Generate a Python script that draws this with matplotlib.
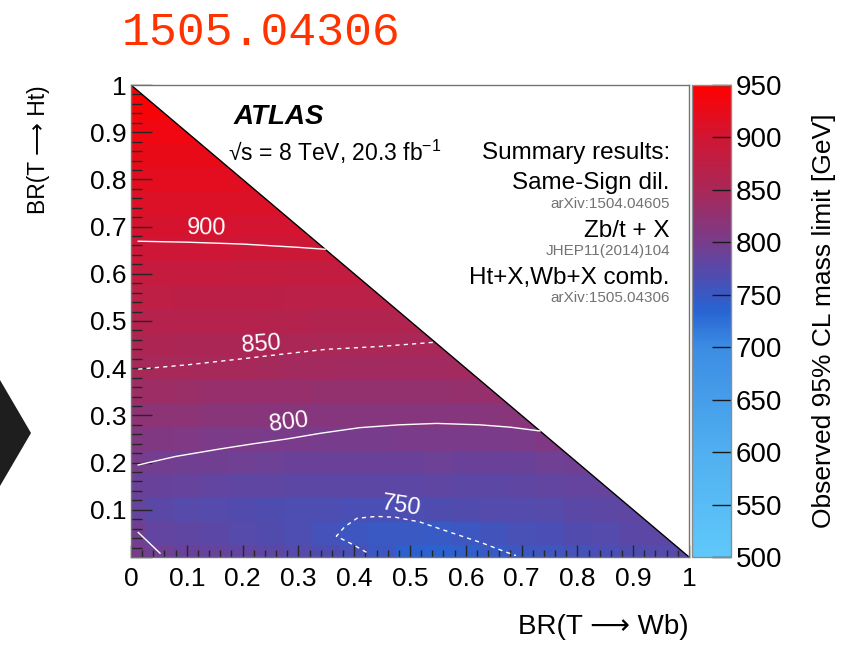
import numpy as np
import matplotlib
matplotlib.use("Agg")
import matplotlib.pyplot as plt
from matplotlib.colors import LinearSegmentedColormap
from matplotlib.patches import Polygon

plt.rcParams['font.family'] = ['Liberation Sans', 'DejaVu Sans']
plt.rcParams['mathtext.fontset'] = 'custom'
plt.rcParams['mathtext.rm'] = 'Liberation Sans'
plt.rcParams['mathtext.it'] = 'Liberation Sans:italic'

# observed mass limit [GeV], one row per BR(T->Ht) bin (0, 0.05, ... 1),
# each row runs over BR(T->Wb) = 0, 0.05, ... up to 1 - BR(T->Ht)
mass_limit = [
    [800, 792, 788, 785, 782, 778, 774, 768, 762, 752, 740, 738, 742, 748, 752, 756, 760, 764, 768, 772, 776],
    [795, 782, 780, 777, 774, 770, 766, 760, 754, 750, 750, 748, 752, 758, 762, 765, 770, 772, 776, 778],
    [786, 776, 774, 772, 770, 768, 767, 766, 765, 765, 766, 768, 770, 771, 772, 774, 776, 778, 780],
    [790, 787, 785, 782, 781, 780, 779, 778, 778, 778, 779, 780, 779, 779, 780, 782, 784, 786],
    [800, 797, 795, 794, 792, 791, 790, 790, 789, 789, 790, 791, 790, 790, 790, 792, 795],
    [810, 809, 807, 804, 803, 802, 802, 800, 800, 800, 801, 802, 802, 802, 803, 808],
    [822, 821, 820, 818, 817, 816, 815, 814, 814, 813, 813, 813, 814, 815, 817],
    [836, 836, 835, 832, 832, 832, 831, 828, 828, 828, 828, 828, 829, 830],
    [849, 848, 848, 847, 847, 846, 843, 843, 842, 842, 842, 842, 843],
    [856, 856, 855, 855, 855, 854, 853, 853, 852, 852, 851, 851],
    [865, 865, 864, 864, 864, 863, 863, 862, 862, 862, 862],
    [875, 875, 874, 874, 873, 873, 872, 872, 871, 871],
    [886, 886, 885, 885, 884, 884, 883, 883, 882],
    [897, 897, 896, 896, 895, 895, 894, 894],
    [906, 906, 905, 905, 904, 904, 904],
    [913, 913, 912, 912, 911, 911],
    [920, 920, 919, 919, 918],
    [927, 927, 926, 926],
    [934, 934, 933],
    [941, 940],
    [948],
]

# contour lines (BR(T->Wb), BR(T->Ht))
c900_x = [0.013, 0.10, 0.20, 0.30, 0.348]
c900_y = [0.669, 0.667, 0.663, 0.656, 0.652]
c850_x = [0.013, 0.10, 0.20, 0.273, 0.35, 0.446, 0.545]
c850_y = [0.398, 0.407, 0.420, 0.430, 0.440, 0.446, 0.455]
c800_x = [0.013, 0.08, 0.16, 0.22, 0.279, 0.339, 0.41, 0.48, 0.548, 0.625, 0.68, 0.733]
c800_y = [0.195, 0.213, 0.229, 0.240, 0.250, 0.262, 0.274, 0.280, 0.283, 0.280, 0.275, 0.267]
c800b_x = [0.013, 0.052]
c800b_y = [0.052, 0.008]
c750_x = [0.422, 0.395, 0.368, 0.383, 0.405, 0.440, 0.475, 0.518, 0.578, 0.631, 0.673, 0.69]
c750_y = [0.010, 0.028, 0.044, 0.064, 0.082, 0.086, 0.084, 0.074, 0.050, 0.029, 0.010, 0.003]

xtick_vals = [0, 0.1, 0.2, 0.3, 0.4, 0.5, 0.6, 0.7, 0.8, 0.9, 1]
xtick_labels = ['0', '0.1', '0.2', '0.3', '0.4', '0.5', '0.6', '0.7', '0.8', '0.9', '1']
ytick_labels = ['', '0.1', '0.2', '0.3', '0.4', '0.5', '0.6', '0.7', '0.8', '0.9', '1']
cbar_ticks = [500, 550, 600, 650, 700, 750, 800, 850, 900, 950]

# root-ish palette: light blue -> blue -> purple -> red
cmap = LinearSegmentedColormap.from_list('lim', [
    (0.0, (95/255, 200/255, 250/255)),
    (100/450, (80/255, 175/255, 240/255)),
    (200/450, (60/255, 140/255, 228/255)),
    (235/450, (40/255, 100/255, 210/255)),
    (265/450, (75/255, 78/255, 180/255)),
    (300/450, (120/255, 60/255, 140/255)),
    (350/450, (168/255, 40/255, 88/255)),
    (400/450, (208/255, 22/255, 52/255)),
    (1.0, (1.0, 0.0, 0.0)),
])

n = len(mass_limit)
Z = np.full((n, n), np.nan)
for j, row in enumerate(mass_limit):
    Z[j, :len(row)] = row
edges = np.linspace(-0.025, 1.025, n + 1)

fig = plt.figure(figsize=(8.49, 6.46), dpi=100)
ax = fig.add_axes([0.1543, 0.1378, 0.6572, 0.7306])

mesh = ax.pcolormesh(edges, edges, np.ma.masked_invalid(Z), cmap=cmap,
                     vmin=500, vmax=950, zorder=1)
ax.add_patch(Polygon([(-0.1, 1.1), (1.1, -0.1), (1.1, 1.1)], closed=True,
                     facecolor='white', edgecolor='none', zorder=2))
ax.plot([0, 1], [1, 0], color='black', lw=1.0, zorder=3)

ax.plot(c900_x, c900_y, color='white', lw=1.0, zorder=4)
ax.plot(c850_x, c850_y, color='white', lw=1.0, ls=(0, (3, 3)), zorder=4)
ax.plot(c800_x, c800_y, color='white', lw=1.0, zorder=4)
ax.plot(c800b_x, c800b_y, color='white', lw=1.0, zorder=4)
ax.plot(c750_x, c750_y, color='white', lw=1.0, ls=(0, (3, 3)), zorder=4)

ax.text(0.136, 0.697, '900', color='white', fontsize=17, ha='center', va='center', rotation=-1, zorder=5)
ax.text(0.234, 0.449, '850', color='white', fontsize=17, ha='center', va='center', rotation=4, zorder=5)
ax.text(0.282, 0.284, '800', color='white', fontsize=17, ha='center', va='center', rotation=7, zorder=5)
ax.text(0.485, 0.108, '750', color='white', fontsize=17, ha='center', va='center', rotation=-9, zorder=5)

ax.set_xlim(0, 1)
ax.set_ylim(0, 1)
ax.set_xticks(xtick_vals)
ax.set_xticklabels(xtick_labels)
ax.set_yticks(xtick_vals)
ax.set_yticklabels(ytick_labels)
ax.set_xticks(np.arange(0, 1.001, 0.02), minor=True)
ax.set_yticks(np.arange(0, 1.001, 0.02), minor=True)
ax.tick_params(axis='x', which='major', direction='in', length=9, width=1, labelsize=19, pad=7, color='0.15')
ax.tick_params(axis='x', which='minor', direction='in', length=5, width=1, color='0.15')
ax.tick_params(axis='y', which='major', direction='in', length=15, width=1, labelsize=19, pad=3, color='0.15')
ax.tick_params(axis='y', which='minor', direction='in', length=8, width=1, color='0.15')
for t in ax.get_xticklines() + ax.get_yticklines():
    t.set_zorder(6)
for s in ax.spines.values():
    s.set_color('0.45')
    s.set_linewidth(1.0)
    s.set_zorder(6)

ax.set_xlabel('BR(T \u27f6 Wb)', fontsize=20, loc='right')
ax.xaxis.set_label_coords(1.0, -0.12)
ax.set_ylabel('BR(T \u27f6 Ht)', fontsize=16.5, loc='top')
ax.yaxis.set_label_coords(-0.145, 1.0)

# ATLAS label block
ax.text(0.183, 0.932, 'ATLAS', fontsize=20, fontweight='bold', fontstyle='italic',
        va='center', ha='left', zorder=7)
ax.text(0.174, 0.858, '\u221as = 8 TeV, 20.3 fb$^{-1}$', fontsize=16.5,
        va='center', ha='left', zorder=7)
right_x = 0.966
ax.text(right_x, 0.857, 'Summary results:', fontsize=17.5, va='center', ha='right', zorder=7)
ax.text(right_x, 0.793, 'Same-Sign dil.', fontsize=17.5, va='center', ha='right', zorder=7)
ax.text(right_x, 0.748, 'arXiv:1504.04605', fontsize=11, color='0.45', va='center', ha='right', zorder=7)
ax.text(right_x, 0.690, 'Zb/t + X', fontsize=17.5, va='center', ha='right', zorder=7)
ax.text(right_x, 0.648, 'JHEP11(2014)104', fontsize=11, color='0.45', va='center', ha='right', zorder=7)
ax.text(right_x, 0.592, 'Ht+X,Wb+X comb.', fontsize=17.5, va='center', ha='right', zorder=7)
ax.text(right_x, 0.549, 'arXiv:1505.04306', fontsize=11, color='0.45', va='center', ha='right', zorder=7)

# colour bar
cax = fig.add_axes([0.8151, 0.1378, 0.0465, 0.7306])
cb = fig.colorbar(mesh, cax=cax, ticks=cbar_ticks)
cb.outline.set_edgecolor('0.55')
cb.outline.set_linewidth(1.0)
cax.tick_params(direction='in', length=14, width=1, labelsize=20, pad=3, color='0.1')
cax.minorticks_off()
cb.set_label('Observed 95% CL mass limit [GeV]', fontsize=19)
cax.yaxis.set_label_coords(3.05, 0.5)

# arXiv number on top and the slide arrow on the left
fig.text(122/849, 1 - 33/646, '1505.04306', color=(1.0, 0.2, 0.0), fontsize=33.5,
         family='Liberation Mono', va='center', ha='left')
fig.patches.append(Polygon([(0, 1 - 380/646), (31/849, 1 - 433/646), (0, 1 - 486/646)],
                           closed=True, transform=fig.transFigure, facecolor='#1e1e1e',
                           edgecolor='none'))

fig.savefig('out.png', dpi=100)
